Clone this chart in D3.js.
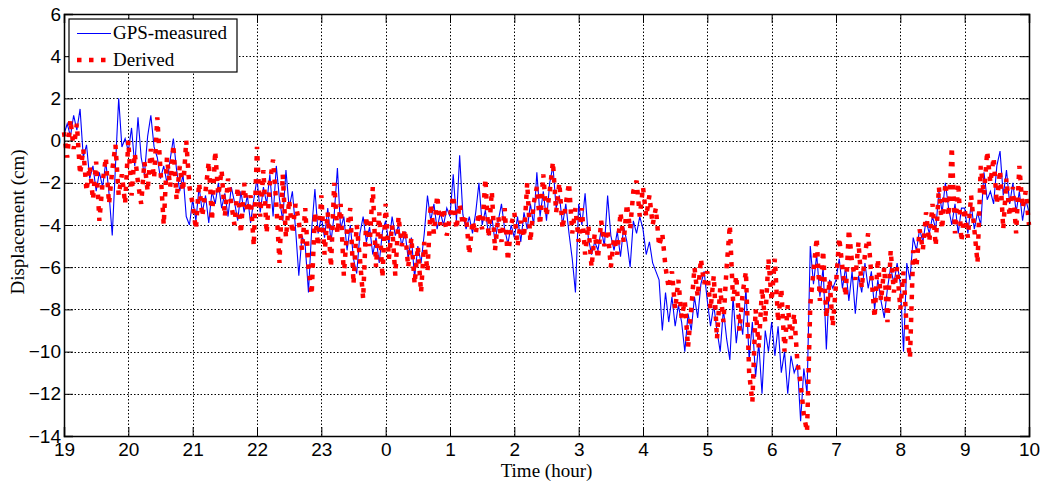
<!DOCTYPE html>
<html>
<head>
<meta charset="utf-8">
<script src="https://cdn.jsdelivr.net/npm/d3@7"></script>
<style>
  body { margin: 0; background: #fff; }
  svg { display: block; }
  .tick-label { font-family: "Liberation Sans", Arial, sans-serif; font-size: 19px; fill: #000; }
  .serif { font-family: "Liberation Serif", "Times New Roman", serif; font-size: 19px; fill: #000; }
</style>
</head>
<body>
<div id="chart"></div>
<script>

// Chart data
// ================================
var startHour = 19;
var sampleStep = 0.05;   // hours between samples (3 min)

var xTickValues = [19, 20, 21, 22, 23, 24, 25, 26, 27, 28, 29, 30, 31, 32, 33, 34];
var xTickLabels = ["19", "20", "21", "22", "23", "0", "1", "2", "3", "4", "5", "6", "7", "8", "9", "10"];
var yTickValues = [-14, -12, -10, -8, -6, -4, -2, 0, 2, 4, 6];

var seriesNames = ["GPS-measured", "Derived"];

// GPS-measured displacement (cm), one row per hour
var gpsMeasured = [
    0.3, 0.8, 0.2, 1.2, 0.5, 1.5, -0.8, -0.2, -1.8, -1.2, -2.4, -1.5, -2.2, -1.0, -2.5, -4.5, -1.2, 2.0, -0.3, 0.1,
    -0.5, 0.6, -1.2, 1.1, -0.8, -1.6, 0.2, 1.2, -0.3, -0.8, -1.8, -1.2, -2.0, -0.9, 0.1, -1.4, -2.4, -1.6, -3.6, -4.0,
    -2.8, -3.8, -2.2, -3.4, -2.6, -3.9, -2.4, -3.0, -2.0, -3.2, -2.5, -3.6, -2.2, -2.9, -3.8, -2.4, -3.4, -2.6, -3.9, -2.8,
    -1.8, -3.4, -2.2, -3.0, -1.6, -3.6, -1.2, -2.8, -3.8, -1.4, -3.2, -2.4, -4.2, -6.4, -4.5, -5.0, -7.2, -4.2, -2.3, -4.4,
    -3.6, -4.6, -3.2, -4.8, -3.5, -1.3, -4.2, -3.6, -5.2, -4.0, -5.6, -6.3, -4.4, -3.6, -4.8, -4.1, -5.4, -4.6, -5.8, -4.3,
    -3.8, -4.9, -3.6, -4.5, -4.0, -5.0, -4.3, -5.6, -4.6, -6.5, -5.0, -5.8, -4.4, -2.6, -3.8, -3.0, -4.2, -3.4, -4.0, -3.2,
    -3.6, -1.6, -3.8, -0.7, -3.5, -4.2, -3.6, -4.4, -3.4, -2.0, -4.0, -3.3, -4.5, -3.6, -4.8, -3.8, -3.0, -4.2, -4.9, -4.0,
    -4.6, -3.6, -4.8, -3.4, -4.2, -3.0, -4.0, -1.5, -3.6, -2.4, -3.8, -2.0, -1.2, -3.2, -2.6, -4.0, -3.0, -4.4, -5.6, -7.2,
    -3.0, -4.0, -2.5, -4.6, -5.4, -4.8, -5.2, -4.2, -5.0, -2.6, -4.5, -5.2, -4.3, -5.5, -4.1, -4.8, -6.0, -3.8, -4.4, -3.6,
    -4.2, -5.4, -4.8, -5.8, -6.2, -6.6, -9.0, -7.2, -8.6, -7.4, -8.8, -7.8, -8.6, -10.0, -8.2, -9.0, -7.4, -8.4, -6.8, -6.2,
    -7.6, -8.8, -7.8, -9.0, -10.0, -8.0, -9.4, -10.4, -7.4, -9.6, -8.2, -9.2, -7.0, -10.4, -8.6, -11.2, -9.6, -12.0, -9.0, -10.0,
    -8.6, -10.2, -8.8, -11.0, -10.0, -12.0, -10.2, -11.0, -10.6, -13.3, -10.8, -12.0, -5.0, -6.8, -5.4, -7.4, -6.0, -9.9, -6.6, -7.0,
    -6.6, -5.6, -7.0, -6.0, -7.6, -6.2, -8.2, -6.4, -7.2, -5.8, -7.0, -6.2, -8.0, -6.6, -7.6, -8.4, -7.0, -6.0, -6.8, -5.8,
    -6.8, -10.0, -5.8, -6.6, -4.6, -5.2, -4.2, -4.8, -3.8, -4.4, -3.6, -4.2, -2.4, -3.4, -2.0, -3.2, -4.0, -3.0, -4.4, -3.2,
    -3.2, -4.4, -3.0, -4.2, -3.4, -4.0, -1.5, -2.8, -2.4, -3.0, -1.2, -0.5, -2.6, -1.4, -3.0, -2.0, -3.4, -2.4, -3.8, -2.8,
    -3.4
];

// Derived displacement (cm), one row per hour
var derived = [
    0.4, -0.8, 1.0, -0.4, 0.8, -1.6, -0.4, -2.4, -1.2, -2.8, -1.0, -3.8, -2.0, -0.8, -3.0, -1.4, -0.2, -2.6, -1.6, -3.0,
    0.0, -2.6, -0.6, -2.0, -3.0, -1.0, -2.4, -0.4, -1.8, 1.1, -1.4, -4.0, -0.8, -2.2, -0.2, -2.8, -1.2, -2.4, 0.0, -2.2,
    -3.0, -4.2, -2.0, -3.6, -2.4, -1.0, -3.8, -0.5, -2.6, -1.4, -3.6, -1.8, -3.0, -4.0, -2.2, -4.4, -2.0, -3.4, -2.6, -5.0,
    -0.3, -3.6, -1.4, -4.4, -2.0, -0.9, -3.0, -5.8, -1.6, -4.6, -2.8, -4.4, -3.0, -3.8, -5.2, -3.2, -6.0, -7.3, -3.4, -5.0,
    -2.6, -5.4, -3.4, -6.0, -2.0, -4.4, -3.0, -6.4, -4.2, -3.2, -6.8, -4.0, -5.6, -7.5, -3.6, -5.0, -2.2, -6.0, -3.4, -6.5,
    -3.0, -5.6, -4.0, -6.4, -3.6, -5.0, -4.2, -6.0, -4.6, -6.8, -5.0, -7.2, -4.8, -6.2, -3.0, -4.4, -2.6, -4.0, -3.2, -4.5,
    -3.6, -2.6, -4.2, -3.0, -4.0, -3.6, -5.4, -3.8, -4.4, -3.4, -4.2, -1.8, -4.6, -2.4, -5.2, -3.6, -4.8, -3.2, -5.7, -4.0,
    -3.4, -5.0, -3.8, -4.6, -2.0, -4.8, -3.0, -2.2, -4.0, -1.6, -3.6, -2.4, -1.0, -3.4, -2.0, -4.2, -3.0, -2.0, -4.4, -3.2,
    -4.8, -3.2, -5.4, -4.0, -6.0, -4.4, -5.6, -3.8, -5.0, -4.2, -6.0, -4.6, -5.4, -3.4, -4.8, -3.0, -4.2, -2.4, -1.9, -3.6,
    -2.2, -3.6, -2.6, -4.0, -3.2, -5.0, -4.4, -6.0, -7.0, -6.2, -8.0, -6.6, -8.4, -7.6, -9.8, -8.0, -6.0, -7.4, -5.6, -6.8,
    -6.2, -8.0, -6.4, -9.4, -7.0, -8.6, -6.0, -4.0, -7.6, -6.4, -9.0, -7.2, -6.2, -11.0, -12.4, -8.0, -9.8, -7.0, -8.6, -5.6,
    -7.6, -5.6, -8.6, -7.0, -10.0, -7.8, -9.4, -8.2, -10.5, -11.5, -13.0, -13.8, -7.8, -6.2, -4.6, -7.6, -5.2, -8.4, -6.6, -8.8,
    -6.8, -4.6, -6.0, -7.4, -4.2, -5.8, -6.6, -4.8, -7.0, -5.4, -4.4, -6.4, -8.4, -5.6, -7.6, -6.0, -8.6, -5.2, -7.2, -6.0,
    -8.0, -6.2, -9.0, -10.3, -5.2, -6.0, -4.2, -5.2, -3.4, -4.8, -3.0, -5.0, -2.2, -4.2, -2.0, -3.6, -0.3, -4.4, -2.0, -4.8,
    -3.2, -4.6, -2.6, -4.2, -5.8, -1.2, -2.6, -0.5, -2.0, -0.8, -3.0, -1.4, -4.2, -1.8, -3.6, -2.2, -4.4, -1.2, -3.2, -2.4,
    -4.0
];

// Set up the chart
// ================================
var svgWidth = 1044;
var svgHeight = 483;

var margin = { top: 14, right: 15, bottom: 47, left: 64 };
var chartWidth = svgWidth - margin.left - margin.right;
var chartHeight = svgHeight - margin.top - margin.bottom;

var svg = d3.select("#chart")
    .append("svg")
    .attr("width", svgWidth)
    .attr("height", svgHeight);

var chartGroup = svg.append("g")
    .attr("transform", `translate(${margin.left}, ${margin.top})`);

// Scales
// ================================
var xScale = d3.scaleLinear().domain([19, 34]).range([0, chartWidth]);
var yScale = d3.scaleLinear().domain([-14, 6]).range([chartHeight, 0]);

// Dotted grid
// ================================
var grid = chartGroup.append("g")
    .attr("stroke", "#000")
    .attr("stroke-width", 1)
    .attr("stroke-dasharray", "1.5,2");

grid.selectAll(".vgrid")
    .data(xTickValues.slice(1, -1))
    .enter()
    .append("line")
    .attr("x1", d => Math.round(xScale(d)) + 0.5)
    .attr("x2", d => Math.round(xScale(d)) + 0.5)
    .attr("y1", 0)
    .attr("y2", chartHeight);

grid.selectAll(".hgrid")
    .data(yTickValues.slice(1, -1))
    .enter()
    .append("line")
    .attr("y1", d => Math.round(yScale(d)) + 0.5)
    .attr("y2", d => Math.round(yScale(d)) + 0.5)
    .attr("x1", 0)
    .attr("x2", chartWidth);

// Lines
// ================================
var lineGen = d3.line()
    .x((d, i) => xScale(startHour + i * sampleStep))
    .y(d => yScale(d));

chartGroup.append("path")
    .datum(gpsMeasured)
    .attr("fill", "none")
    .attr("stroke", "#0000ff")
    .attr("stroke-width", 1.1)
    .attr("d", lineGen);

// dotted red line, MATLAB-like square dots
chartGroup.append("path")
    .datum(derived)
    .attr("fill", "none")
    .attr("stroke", "#ff0000")
    .attr("stroke-width", 4.5)
    .attr("stroke-dasharray", "4.5,7")
    .attr("d", lineGen);

// Axes (box with inward ticks)
// ================================
var bottomAxis = d3.axisBottom(xScale)
    .tickValues(xTickValues)
    .tickSize(-9)
    .tickPadding(7)
    .tickFormat((d, i) => xTickLabels[i]);

var leftAxis = d3.axisLeft(yScale)
    .tickValues(yTickValues)
    .tickSize(-9)
    .tickPadding(3);

var topAxis = d3.axisTop(xScale).tickValues(xTickValues).tickSize(-9).tickFormat("");
var rightAxis = d3.axisRight(yScale).tickValues(yTickValues).tickSize(-9).tickFormat("");

var xAxis = chartGroup.append("g")
    .attr("transform", `translate(0, ${chartHeight})`)
    .call(bottomAxis);

var yAxis = chartGroup.append("g")
    .call(leftAxis);

chartGroup.append("g").call(topAxis);
chartGroup.append("g")
    .attr("transform", `translate(${chartWidth}, 0)`)
    .call(rightAxis);

chartGroup.selectAll(".domain")
    .attr("stroke", "#000")
    .attr("stroke-width", 1.5);
chartGroup.selectAll(".tick line")
    .attr("stroke", "#000")
    .attr("stroke-width", 1);
chartGroup.selectAll(".tick text")
    .attr("class", "tick-label")
    .attr("fill", "#000");

// Axis titles
// ================================
chartGroup.append("text")
    .attr("class", "serif")
    .attr("text-anchor", "middle")
    .attr("x", chartWidth / 2)
    .attr("y", chartHeight + 41)
    .text("Time (hour)");

chartGroup.append("text")
    .attr("class", "serif")
    .attr("text-anchor", "middle")
    .attr("transform", `translate(${24 - margin.left}, ${chartHeight / 2 - 3}) rotate(-90)`)
    .text("Displacement (cm)");

// Legend
// ================================
var legend = chartGroup.append("g")
    .attr("transform", "translate(5, 5)");

legend.append("rect")
    .attr("width", 168)
    .attr("height", 53)
    .attr("fill", "#fff")
    .attr("stroke", "#000")
    .attr("stroke-width", 1.2);

legend.append("line")
    .attr("x1", 8).attr("x2", 42)
    .attr("y1", 14.5).attr("y2", 14.5)
    .attr("stroke", "#0000ff")
    .attr("stroke-width", 1.1);

legend.append("line")
    .attr("x1", 8).attr("x2", 42)
    .attr("y1", 41).attr("y2", 41)
    .attr("stroke", "#ff0000")
    .attr("stroke-width", 4.5)
    .attr("stroke-dasharray", "4.5,7.5");

legend.selectAll(".legend-text")
    .data(seriesNames)
    .enter()
    .append("text")
    .attr("class", "serif")
    .attr("x", 44)
    .attr("y", (d, i) => 20 + i * 26.5)
    .text(d => d);

</script>
</body>
</html>
